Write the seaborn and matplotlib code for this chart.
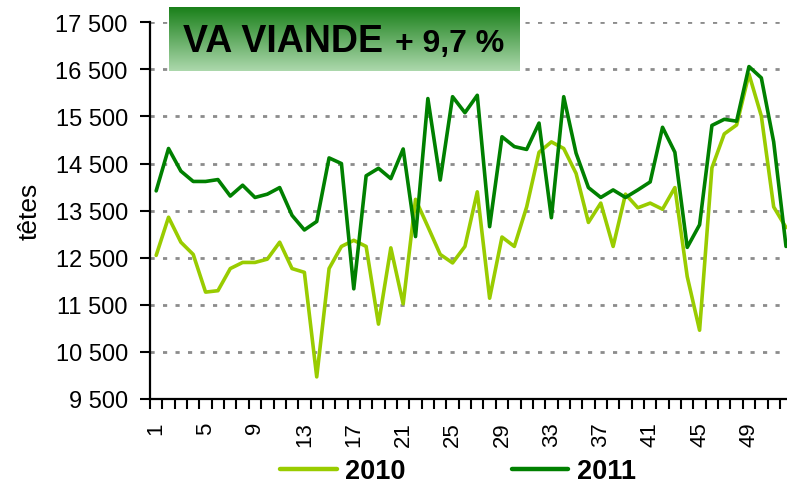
import numpy as np
import pandas as pd
import matplotlib
matplotlib.use("Agg")
import matplotlib.pyplot as plt
from matplotlib.ticker import FuncFormatter, FixedLocator
import seaborn as sns

# weekly slaughter counts, VA viande
weeks = list(range(1, 53))
va_2010 = [12550, 13360, 12830, 12570, 11770, 11800, 12270, 12400, 12400, 12470,
           12830, 12270, 12190, 9970, 12270, 12740, 12870, 12740, 11090, 12710,
           11520, 13740, 13160, 12570, 12390, 12740, 13900, 11640, 12940, 12740,
           13580, 14740, 14960, 14820, 14290, 13250, 13660, 12740, 13850, 13560,
           13660, 13530, 13990, 12100, 10960, 14410, 15130, 15320, 16400, 15510,
           13580, 13140]
va_2011 = [13920, 14820, 14340, 14120, 14120, 14160, 13810, 14040, 13780, 13850,
           13990, 13400, 13090, 13270, 14620, 14500, 11840, 14240, 14400, 14180,
           14810, 12950, 15880, 14150, 15920, 15580, 15950, 13160, 15070, 14860,
           14800, 15360, 13350, 15920, 14720, 13990, 13780, 13940, 13780, 13940,
           14110, 15270, 14740, 12720, 13200, 15310, 15440, 15400, 16560, 16320,
           14960, 12740]
years = ["2010", "2011"]
colors = ["#99CC00", "#008000"]
y_ticks = list(range(9500, 17501, 1000))
x_labels = list(range(1, 53, 4))

df = pd.DataFrame({
    "semaine": weeks * 2,
    "têtes": va_2010 + va_2011,
    "année": [years[0]] * 52 + [years[1]] * 52,
})

sns.set_style("white")
plt.rcParams["font.family"] = ["Liberation Sans", "DejaVu Sans"]
plt.rcParams["text.color"] = "black"
plt.rcParams["xtick.color"] = "black"
plt.rcParams["ytick.color"] = "black"
plt.rcParams["axes.labelcolor"] = "black"

W, H = 787, 485
fig = plt.figure(figsize=(W / 100, H / 100), dpi=100)
ax = fig.add_axes([150 / W, 1 - 400 / H, 637 / W, (400 - 23.3) / H])

sns.lineplot(data=df, x="semaine", y="têtes", hue="année", palette=colors,
             linewidth=2.6, ax=ax, legend=True)

ax.set_xlim(0.5, 0.5 + 637 / 12.35)
ax.set_ylim(9500, 17500)
ax.set_yticks(y_ticks)
ax.yaxis.set_major_formatter(FuncFormatter(lambda v, p: f"{int(v):,}".replace(",", " ")))
ax.tick_params(axis="y", labelsize=17, length=7, width=1.5, pad=9, left=True)

ax.xaxis.set_major_locator(FixedLocator(x_labels))
ax.xaxis.set_minor_locator(FixedLocator(np.arange(0.5, 53, 1)))
ax.set_xticklabels([str(v) for v in x_labels], rotation=90)
ax.tick_params(axis="x", which="major", length=0, labelsize=16, pad=16)
ax.tick_params(axis="x", which="minor", length=7, width=1.5, bottom=True)

ax.set_axisbelow(True)
ax.yaxis.grid(True, color="#8c8c8c", linestyle=(0, (1.5, 3)), linewidth=2)
ax.xaxis.grid(False)
for side in ["top", "right"]:
    ax.spines[side].set_visible(False)
for side in ["left", "bottom"]:
    ax.spines[side].set_color("black")
    ax.spines[side].set_linewidth(1.6)

ax.set_xlabel("")
ax.set_ylabel("têtes", fontsize=19, labelpad=10)

handles, labels = ax.get_legend_handles_labels()
ax.get_legend().remove()
leg = fig.legend(handles, labels, loc="center", bbox_to_anchor=(458 / W, 1 - 472 / H),
                 ncol=2, frameon=False, prop={"weight": "bold", "size": 19.5},
                 handlelength=2.1, handletextpad=0.3, columnspacing=3.9)
for line in leg.get_lines():
    line.set_linewidth(3.2)

# title box with vertical green gradient
bx = fig.add_axes([169 / W, 1 - 72 / H, 351 / W, 64 / H])
top = np.array([26, 128, 26]) / 255
bot = np.array([172, 216, 172]) / 255
t = np.linspace(0, 1, 100)[:, None]
grad = top[None, :] * (1 - t) + bot[None, :] * t
bx.imshow(grad[:, None, :], aspect="auto", extent=[0, 1, 0, 1])
bx.set_axis_off()
fig.text(183 / W, 1 - 52 / H, "VA VIANDE", fontsize=27, fontweight="bold",
         ha="left", va="baseline")
fig.text(395 / W, 1 - 52 / H, "+ 9,7 %", fontsize=23, fontweight="bold",
         ha="left", va="baseline")

fig.savefig("out.png", dpi=100)
